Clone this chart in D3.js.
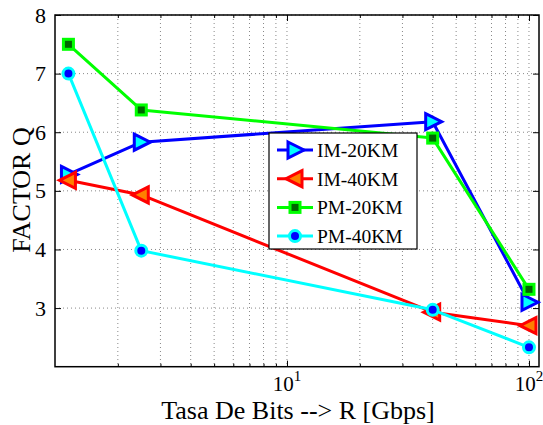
<!DOCTYPE html>
<html><head><meta charset="utf-8">
<script src="https://cdn.jsdelivr.net/npm/d3@7"></script>
<style>body{margin:0;background:#fff;} svg{display:block;} svg text{font-family:"Liberation Serif","Times New Roman",serif;}</style>
</head><body>
<svg id="c" width="543" height="425"></svg>
<script>
const xValues = [1.25, 2.5, 40, 100];
const im20 = [5.28, 5.83, 6.18, 3.1];
const im40 = [5.18, 4.93, 2.93, 2.7];
const pm20 = [7.5, 6.38, 5.9, 3.32];
const pm40 = [7.0, 3.98, 2.97, 2.33];
const seriesNames = ["IM-20KM", "IM-40KM", "PM-20KM", "PM-40KM"];
const yTicks = [3, 4, 5, 6, 7, 8];
const xTicks = [10, 100];
const xMinor = [2,3,4,5,6,7,8,9,20,30,40,50,60,70,80,90];

const series = [
  {name: seriesNames[0], vals: im20, color: "#0000ff", fill: "#00ffff", marker: "tri-right"},
  {name: seriesNames[1], vals: im40, color: "#ff0000", fill: "#ff8000", marker: "tri-left"},
  {name: seriesNames[2], vals: pm20, color: "#00ff00", fill: "#006400", marker: "square"},
  {name: seriesNames[3], vals: pm40, color: "#00ffff", fill: "#0000ff", marker: "circle"}
];

const svg = d3.select("#c");
const L = 55, R = 539, T = 15, B = 366.7;
const x = d3.scaleLog().domain([1.1, 110]).range([L, R]);
const y = d3.scaleLinear().domain([2, 8]).range([B, T]);

// grid
const g = svg.append("g");
xMinor.concat(xTicks).forEach(v => {
  g.append("line").attr("x1", x(v)).attr("x2", x(v)).attr("y1", T).attr("y2", B)
   .attr("stroke", "#888").attr("stroke-width", 1).attr("stroke-dasharray", "1,3");
});
yTicks.forEach(v => {
  g.append("line").attr("x1", L).attr("x2", R).attr("y1", y(v)).attr("y2", y(v))
   .attr("stroke", "#888").attr("stroke-width", 1).attr("stroke-dasharray", "1,3");
});

// axes with inward ticks
const axB = d3.axisBottom(x).tickValues(xTicks).tickSize(-6).tickFormat("");
const axT = d3.axisTop(x).tickValues(xTicks).tickSize(-6).tickFormat("");
const axL = d3.axisLeft(y).tickValues(yTicks).tickSize(-6).tickPadding(9).tickFormat(d3.format("d"));
const axR = d3.axisRight(y).tickValues(yTicks).tickSize(-6).tickFormat("");
const axBm = d3.axisBottom(x).tickValues(xMinor).tickSize(-3).tickFormat("");
const axTm = d3.axisTop(x).tickValues(xMinor).tickSize(-3).tickFormat("");
[ [axB, `translate(0,${B})`], [axT, `translate(0,${T})`], [axL, `translate(${L},0)`], [axR, `translate(${R},0)`],
  [axBm, `translate(0,${B})`], [axTm, `translate(0,${T})`] ].forEach(([a, tr]) => {
  const s = svg.append("g").attr("transform", tr).call(a).attr("font-family", null);
  s.select(".domain").remove();
  s.selectAll("line").attr("stroke", "#000").attr("stroke-width", 1);
  s.selectAll("text").attr("font-size", 22).attr("fill", "#000");
});
svg.append("rect").attr("x", L).attr("y", T).attr("width", R - L).attr("height", B - T)
  .attr("fill", "none").attr("stroke", "#000").attr("stroke-width", 1.5);

// x tick labels with superscripts
xTicks.forEach(v => {
  const t = svg.append("text").attr("x", x(v)).attr("y", 391).attr("text-anchor", "middle")
    .attr("font-size", 21).attr("fill", "#000");
  t.append("tspan").text("10");
  t.append("tspan").attr("dy", -10).attr("font-size", 15).text(String(Math.round(Math.log10(v))));
});

// markers
function drawMarker(sel, type, cx, cy, s) {
  const lw = 3;
  if (type === "tri-right") {
    sel.append("path").attr("d", `M${cx-7},${cy-8}L${cx+9},${cy}L${cx-7},${cy+8}Z`)
      .attr("fill", s.fill).attr("stroke", s.color).attr("stroke-width", lw).attr("stroke-linejoin", "miter");
  } else if (type === "tri-left") {
    sel.append("path").attr("d", `M${cx+7},${cy-8}L${cx-9},${cy}L${cx+7},${cy+8}Z`)
      .attr("fill", s.fill).attr("stroke", s.color).attr("stroke-width", lw).attr("stroke-linejoin", "miter");
  } else if (type === "square") {
    sel.append("rect").attr("x", cx-5).attr("y", cy-5).attr("width", 10).attr("height", 10)
      .attr("fill", s.fill).attr("stroke", s.color).attr("stroke-width", lw);
  } else {
    sel.append("circle").attr("cx", cx).attr("cy", cy).attr("r", 5.5)
      .attr("fill", s.fill).attr("stroke", s.color).attr("stroke-width", lw);
  }
}

const line = d3.line().x((d, i) => x(xValues[i])).y(d => y(d));
series.forEach(s => {
  svg.append("path").attr("d", line(s.vals)).attr("fill", "none")
    .attr("stroke", s.color).attr("stroke-width", 3).attr("stroke-linejoin", "round");
  const mg = svg.append("g");
  s.vals.forEach((v, i) => drawMarker(mg, s.marker, x(xValues[i]), y(v), s));
});

// legend
const lg = svg.append("g");
lg.append("rect").attr("x", 269).attr("y", 133).attr("width", 148).attr("height", 116)
  .attr("fill", "#fff").attr("stroke", "#000").attr("stroke-width", 1.2);
series.forEach((s, i) => {
  const yy = 150 + i * 28.7;
  lg.append("line").attr("x1", 277).attr("x2", 313).attr("y1", yy).attr("y2", yy)
    .attr("stroke", s.color).attr("stroke-width", 3);
  drawMarker(lg, s.marker, 295, yy, s);
  lg.append("text").attr("x", 317).attr("y", yy + 7).attr("font-size", 19.5).attr("fill", "#000").text(s.name);
});

// axis titles
svg.append("text").attr("x", 298).attr("y", 419).attr("text-anchor", "middle")
  .attr("font-size", 26).attr("fill", "#000").text("Tasa De Bits --> R [Gbps]");
svg.append("text").attr("transform", `translate(30,190) rotate(-90)`).attr("text-anchor", "middle")
  .attr("font-size", 26).attr("fill", "#000").text("FACTOR Q");
</script>
</body></html>
